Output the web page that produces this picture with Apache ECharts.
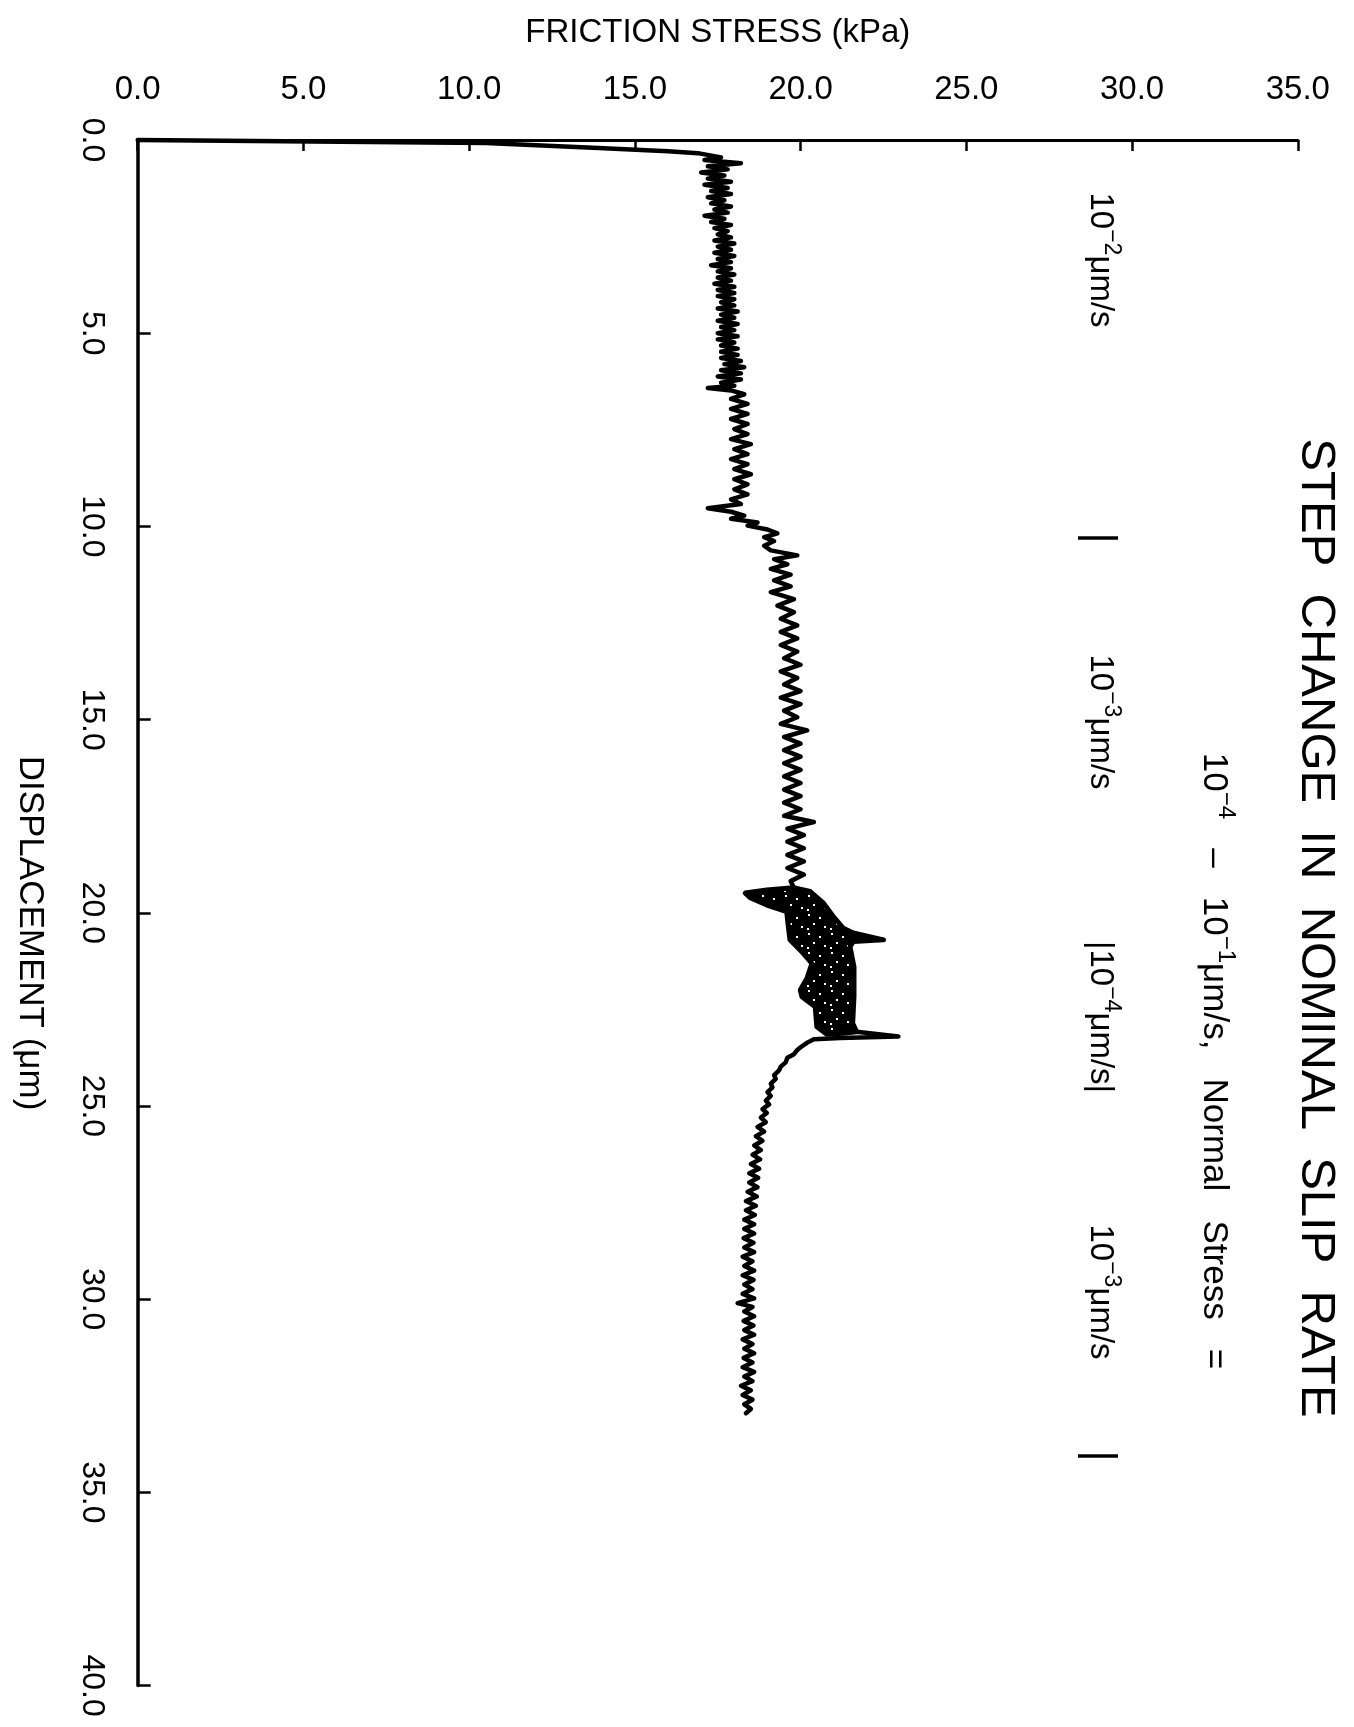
<!DOCTYPE html>
<html>
<head>
<meta charset="utf-8">
<script src="https://cdn.jsdelivr.net/npm/echarts@6/dist/echarts.min.js"></script>
<style>
  html, body { margin: 0; padding: 0; background: #fff; }
  #chart { width: 1354px; height: 1727px; }
</style>
</head>
<body>
<div id="chart"></div>
<script>
// Friction stress (kPa) against displacement (um), one [stress, displacement] pair per point.

// Initial loading ramp
const loadingCurve = [[0, 0], [10.5, 0.08], [13.9, 0.21], [16.0, 0.29], [16.9, 0.34]];

// 10^-2 um/s step
const slipRate2 = [
  [16.9, 0.35], [17.6, 0.45], [17.1, 0.52], [18.2, 0.60], [17.2, 0.68], [17.8, 0.76], [17.0, 0.84],
  [17.7, 0.92], [17.2, 1.00], [17.9, 1.08], [17.1, 1.16], [17.8, 1.24], [17.3, 1.32], [17.9, 1.40],
  [17.2, 1.48], [17.7, 1.56], [17.3, 1.64], [17.9, 1.72], [17.4, 1.80], [17.8, 1.88], [17.1, 1.96],
  [17.7, 2.04], [17.3, 2.12], [17.9, 2.20], [17.4, 2.28], [17.8, 2.36], [17.5, 2.44], [17.9, 2.52],
  [17.4, 2.60], [18.0, 2.68], [17.5, 2.76], [17.9, 2.84], [17.4, 2.92], [18.0, 3.00], [17.5, 3.08],
  [17.9, 3.16], [17.3, 3.24], [17.9, 3.32], [17.5, 3.40], [18.0, 3.48], [17.5, 3.56], [17.9, 3.64],
  [17.4, 3.72], [18.0, 3.80], [17.5, 3.88], [18.0, 3.96], [17.5, 4.04], [18.0, 4.12], [17.6, 4.20],
  [18.0, 4.28], [17.5, 4.36], [18.1, 4.44], [17.6, 4.52], [18.0, 4.60], [17.5, 4.68], [18.1, 4.76],
  [17.6, 4.84], [18.0, 4.92], [17.5, 5.00], [18.1, 5.08], [17.5, 5.16], [18.0, 5.24], [17.6, 5.32],
  [18.1, 5.40], [17.6, 5.48], [18.1, 5.56], [17.6, 5.64], [18.2, 5.72], [17.7, 5.80], [18.3, 5.88],
  [17.6, 5.96], [18.2, 6.04], [17.5, 6.12], [18.2, 6.20], [17.6, 6.28], [18.0, 6.36], [17.2, 6.42],
  [17.9, 6.48], [18.3, 6.58], [17.9, 6.70], [18.4, 6.83], [17.9, 6.96], [18.4, 7.09], [17.9, 7.22],
  [18.4, 7.35], [18.0, 7.48], [18.4, 7.61], [17.9, 7.74], [18.5, 7.87], [18.0, 8.00], [18.4, 8.13],
  [17.9, 8.26], [18.4, 8.39], [18.0, 8.52], [18.5, 8.65], [18.0, 8.78], [18.4, 8.91], [18.0, 9.04],
  [18.4, 9.17], [17.9, 9.30], [18.2, 9.42], [17.2, 9.53]
];

// 10^-3 um/s step
const slipRate3a = [
  [17.9, 9.62], [18.3, 9.72], [17.9, 9.80], [18.7, 9.90], [18.4, 9.98], [19.0, 10.08], [19.3, 10.18],
  [18.9, 10.28], [19.2, 10.38], [18.9, 10.50], [19.1, 10.62], [19.9, 10.75], [19.2, 10.85], [19.6, 10.98],
  [19.1, 11.10], [19.7, 11.25], [19.2, 11.40], [19.7, 11.55], [19.1, 11.70], [19.8, 11.88], [19.3, 12.05],
  [19.8, 12.22], [19.4, 12.39], [19.9, 12.56], [19.4, 12.73], [19.9, 12.90], [19.4, 13.07], [19.9, 13.24],
  [19.5, 13.41], [20.0, 13.58], [19.4, 13.75], [19.9, 13.92], [19.5, 14.09], [20.0, 14.26], [19.4, 14.43],
  [20.0, 14.60], [19.5, 14.77], [19.9, 14.94], [19.4, 15.11], [20.2, 15.28], [19.5, 15.45], [20.0, 15.62],
  [19.5, 15.79], [20.0, 15.96], [19.5, 16.13], [20.0, 16.30], [19.5, 16.47], [20.0, 16.64], [19.5, 16.81],
  [20.0, 16.98], [19.5, 17.15], [20.0, 17.32], [19.5, 17.49], [20.4, 17.65], [19.6, 17.82], [20.1, 17.99],
  [19.6, 18.16], [20.1, 18.33], [19.6, 18.50], [20.1, 18.67], [19.6, 18.84], [20.1, 19.01], [19.7, 19.18],
  [19.8, 19.36]
];

// 10^-4 um/s step: outline of the densely overlapping stick-slip trace
const slipRate4Envelope = [
  [18.33, 19.49], [18.98, 19.41], [19.78, 19.35], [20.29, 19.45], [20.69, 19.75], [20.99, 20.10],
  [21.29, 20.40], [21.59, 20.52], [22.50, 20.70], [21.59, 20.74], [21.49, 20.88], [21.61, 21.40],
  [21.61, 22.17], [21.57, 22.86], [21.69, 23.08], [21.29, 23.12], [20.79, 23.14], [20.49, 22.95],
  [20.44, 22.43], [20.04, 22.17], [19.99, 22.00], [20.19, 21.70], [20.34, 21.31], [20.08, 21.05],
  [19.68, 20.70], [19.63, 20.36], [19.58, 19.97], [18.98, 19.80], [18.48, 19.61]
];

// Return to 10^-3 um/s
const slipRate3b = [
  [21.69, 23.08], [22.95, 23.20], [21.2, 23.24], [20.4, 23.27], [20.2, 23.36], [20.0, 23.48], [19.9, 23.55],
  [19.8, 23.66], [19.6, 23.75], [19.55, 23.87], [19.4, 23.98], [19.35, 24.08], [19.2, 24.20], [19.25, 24.30],
  [19.1, 24.42], [19.15, 24.52], [19.0, 24.64], [19.1, 24.74], [18.95, 24.86], [19.05, 24.96], [18.85, 25.08],
  [18.98, 25.18], [18.8, 25.30], [18.95, 25.42], [18.7, 25.54], [18.9, 25.66], [18.65, 25.78], [18.85, 25.90],
  [18.6, 26.02], [18.8, 26.14], [18.55, 26.26], [18.78, 26.38], [18.5, 26.50], [18.75, 26.62], [18.45, 26.74],
  [18.72, 26.86], [18.45, 26.98], [18.7, 27.10], [18.4, 27.22], [18.68, 27.34], [18.35, 27.46], [18.65, 27.58],
  [18.35, 27.70], [18.62, 27.82], [18.3, 27.94], [18.6, 28.06], [18.3, 28.18], [18.6, 28.30], [18.28, 28.42],
  [18.58, 28.54], [18.3, 28.66], [18.6, 28.78], [18.25, 28.90], [18.55, 29.02], [18.3, 29.14], [18.6, 29.26],
  [18.25, 29.38], [18.58, 29.50], [18.3, 29.62], [18.55, 29.74], [18.25, 29.86], [18.6, 29.98], [18.1, 30.10],
  [18.55, 30.20], [18.3, 30.32], [18.6, 30.44], [18.28, 30.56], [18.58, 30.68], [18.3, 30.80], [18.6, 30.92],
  [18.25, 31.04], [18.55, 31.16], [18.3, 31.28], [18.6, 31.40], [18.28, 31.52], [18.55, 31.64], [18.25, 31.76],
  [18.6, 31.88], [18.3, 32.00], [18.55, 32.12], [18.2, 32.24], [18.5, 32.36], [18.25, 32.48], [18.55, 32.60],
  [18.3, 32.72], [18.5, 32.84], [18.35, 32.95]
];

// Axis tick labels
const stressTickLabels = ['0.0', '5.0', '10.0', '15.0', '20.0', '25.0', '30.0', '35.0'];
const displacementTickLabels = ['0.0', '5.0', '10.0', '15.0', '20.0', '25.0', '30.0', '35.0', '40.0'];

const FONT = '"Liberation Sans", Arial, Helvetica, sans-serif';
const upperTrace = loadingCurve.concat(slipRate2, slipRate3a);

// Black fill with small gaps, as left between the overlapping pen strokes of the slow-rate trace
function speckleFill() {
  const c = document.createElement('canvas');
  c.width = 23; c.height = 19;
  const g = c.getContext('2d');
  g.fillStyle = '#000';
  g.fillRect(0, 0, c.width, c.height);
  g.fillStyle = '#fff';
  [[3, 2], [14, 5], [8, 11], [19, 14], [2, 16]].forEach(function (d) { g.fillRect(d[0], d[1], 2, 2); });
  return { image: c, repeat: 'repeat' };
}
const blobFill = speckleFill();

const chart = echarts.init(document.getElementById('chart'), null, { renderer: 'canvas' });

// rich-text styles for rotated annotations with superscript exponents
function rateRich(size, supSize) {
  return {
    n: { fontFamily: FONT, fontSize: size, lineHeight: size * 1.2, verticalAlign: 'bottom', fill: '#000' },
    s: { fontFamily: FONT, fontSize: supSize, lineHeight: supSize, verticalAlign: 'top', fill: '#000' }
  };
}

function rotatedText(x, y, text, size, supSize) {
  return {
    type: 'text', x: x, y: y, rotation: -Math.PI / 2,
    style: {
      text: text, align: 'center', verticalAlign: 'middle', fill: '#000',
      font: size + 'px ' + FONT,
      rich: rateRich(size, supSize)
    }
  };
}

const option = {
  backgroundColor: '#fff',
  animation: false,
  grid: { left: 137.7, right: 56.2, top: 140, bottom: 41.4, containLabel: false },
  xAxis: {
    type: 'value', position: 'top', min: 0, max: 35, interval: 5,
    name: 'FRICTION STRESS (kPa)', nameLocation: 'middle', nameGap: 91,
    nameTextStyle: { fontFamily: FONT, fontSize: 33, color: '#000' },
    axisLine: { show: true, onZero: false, lineStyle: { color: '#000', width: 3 } },
    axisTick: { show: true, inside: true, length: 11, lineStyle: { color: '#000', width: 2.5 } },
    axisLabel: {
      margin: 34, fontFamily: FONT, fontSize: 33, color: '#000',
      formatter: function (v) { return stressTickLabels[Math.round(v / 5)]; }
    },
    splitLine: { show: false }
  },
  yAxis: {
    type: 'value', inverse: true, min: 0, max: 40, interval: 5,
    axisLine: { show: true, onZero: false, lineStyle: { color: '#000', width: 3.5 } },
    axisTick: { show: true, inside: true, length: 13, lineStyle: { color: '#000', width: 2.5 } },
    axisLabel: {
      rotate: -90, margin: 30, fontFamily: FONT, fontSize: 32, color: '#000',
      formatter: function (v) { return displacementTickLabels[Math.round(v / 5)]; }
    },
    splitLine: { show: false }
  },
  series: [
    {
      type: 'line', data: upperTrace, showSymbol: false, clip: false, smooth: false,
      lineStyle: { color: '#000', width: 4.5, join: 'round', cap: 'round' }
    },
    {
      type: 'custom', data: slipRate4Envelope, clip: false,
      encode: { x: 0, y: 1 },
      renderItem: function (params, api) {
        if (params.dataIndex !== 0) return null;
        const pts = slipRate4Envelope.map(function (p) { return api.coord(p); });
        return {
          type: 'polygon', shape: { points: pts },
          style: { fill: blobFill, stroke: '#000', lineWidth: 5, lineJoin: 'round' }
        };
      }
    },
    {
      type: 'line', data: slipRate3b, showSymbol: false, clip: false, smooth: false,
      lineStyle: { color: '#000', width: 4.5, join: 'round', cap: 'round' }
    }
  ],
  graphic: [
    rotatedText(1316, 928, 'STEP  CHANGE  IN  NOMINAL  SLIP  RATE', 49, 30),
    rotatedText(1217, 1061, '{n|10}{s|−4}{n|   –   10}{s|−1}{n|μm/s,   Normal   Stress   =}', 35, 24),
    rotatedText(1103, 260, '{n|10}{s|−2}{n|μm/s}', 33, 23),
    rotatedText(1103, 538, '{n||}', 42, 22),
    rotatedText(1103, 722, '{n|10}{s|−3}{n|μm/s}', 33, 23),
    rotatedText(1103, 1017, '{n||10}{s|−4}{n|μm/s|}', 33, 23),
    rotatedText(1103, 1292, '{n|10}{s|−3}{n|μm/s}', 33, 23),
    rotatedText(1103, 1456, '{n||}', 42, 22),
    rotatedText(30, 933, 'DISPLACEMENT (μm)', 35, 22)
  ]
};

chart.setOption(option);
</script>
</body>
</html>
